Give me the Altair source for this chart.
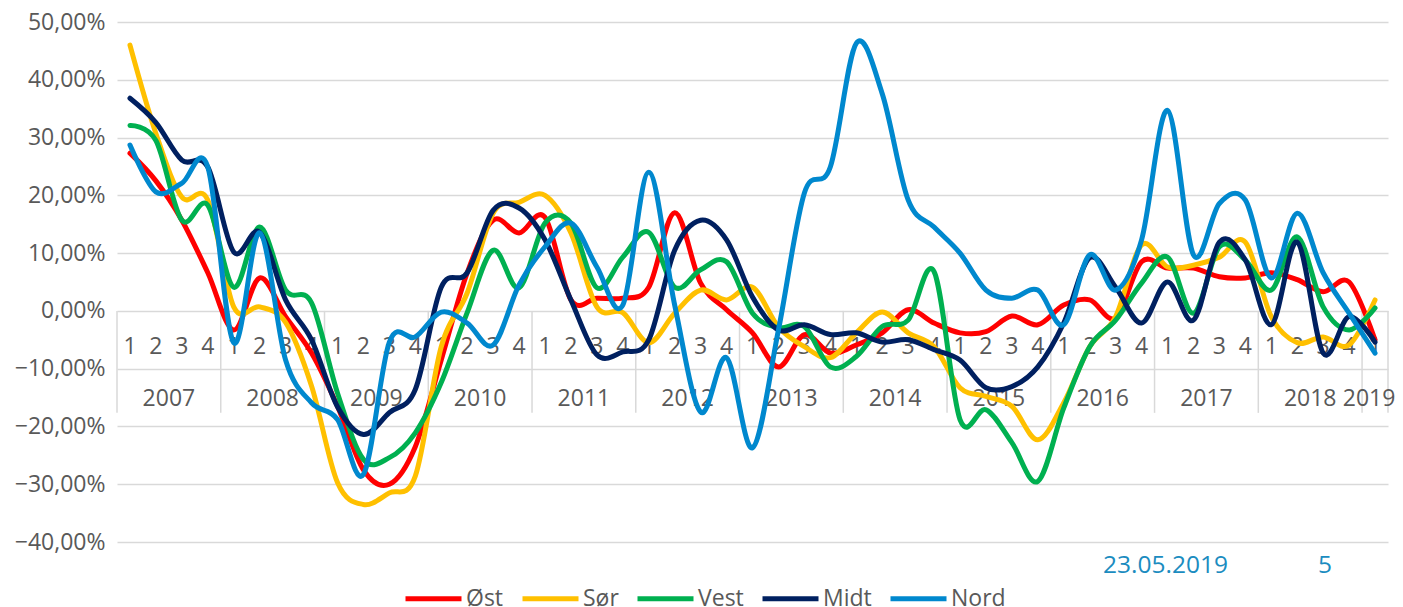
import altair as alt
import pandas as pd

# ---------------- data ----------------
years = ["2007", "2008", "2009", "2010", "2011", "2012", "2013",
         "2014", "2015", "2016", "2017", "2018", "2019"]
quarters_per_year = [4, 4, 4, 4, 4, 4, 4, 4, 4, 4, 4, 4, 1]

series_names = ["Øst", "Sør", "Vest", "Midt", "Nord"]
series_colors = ["#FF0000", "#FFC000", "#00B050", "#002060", "#0088CE"]

ost = [27.3, 22.5, 15.7, 6.6, -3.3, 5.7, -1.0, -7.3, -16.5, -27.5, -30.0, -23.5,
       -8.5, 6.6, 15.7, 13.5, 16.2, 1.9, 2.2, 2.2, 4.1, 17.0, 4.8, 0.2,
       -3.8, -9.7, -4.1, -7.3, -5.9, -3.8, 0.2, -2.1, -3.8, -3.6, -0.9, -2.4,
       1.0, 1.9, -1.2, 8.5, 7.4, 7.4, 5.9, 5.7, 6.6, 5.4, 3.3, 5.0, -5.0]
sor = [46.0, 30.7, 19.7, 19.2, 0.7, 0.7, -2.0, -13.0, -29.7, -33.5, -31.5, -28.6,
       -6.2, 3.1, 16.9, 18.8, 20.0, 13.5, 0.7, -0.3, -5.5, -0.4, 3.6, 1.9,
       4.1, -2.8, -6.2, -8.1, -3.8, -0.2, -3.8, -6.2, -13.3, -14.8, -16.5, -22.3,
       -15.9, -6.2, -1.0, 11.4, 7.6, 7.9, 9.3, 11.9, -1.0, -5.5, -4.5, -5.9, 1.9]
vest = [32.1, 29.5, 15.7, 18.3, 4.1, 14.5, 3.6, 1.4, -14.2, -25.7, -25.4, -21.1,
        -12.4, -0.3, 10.5, 4.0, 15.2, 15.2, 4.0, 9.3, 13.6, 4.1, 7.1, 8.5,
        -0.4, -2.9, -2.7, -9.7, -7.9, -2.7, -1.6, 6.8, -18.8, -17.1, -22.8, -29.5,
        -16.8, -6.2, -1.6, 4.8, 9.3, -0.4, 11.1, 8.8, 3.6, 12.8, 0.7, -3.3, 0.5]
midt = [36.8, 32.6, 26.1, 24.9, 10.2, 13.6, 1.9, -5.0, -16.6, -21.4, -17.6, -13.6,
        4.1, 6.6, 17.4, 17.8, 12.3, 1.9, -7.6, -7.1, -5.0, 10.5, 15.7, 12.3,
        2.4, -3.3, -2.4, -4.1, -3.8, -5.4, -5.0, -6.7, -8.5, -13.3, -13.1, -9.7,
        -2.1, 9.2, 4.1, -2.1, 5.0, -1.6, 11.9, 8.8, -2.4, 11.9, -7.3, -1.0, -5.4]
nord = [28.7, 20.6, 22.1, 24.9, -5.5, 13.5, -8.5, -15.9, -18.8, -28.3, -5.4, -4.5,
        -0.2, -2.1, -5.9, 4.5, 11.1, 15.2, 7.6, 1.0, 24.0, 1.0, -17.5, -8.1,
        -23.7, -3.3, 20.4, 24.9, 46.3, 37.6, 19.2, 14.5, 10.0, 3.6, 2.2, 3.6,
        -2.4, 9.7, 3.6, 12.3, 34.7, 9.7, 18.6, 19.2, 5.7, 16.9, 6.6, -0.4, -7.3]

footer_date = "23.05.2019"
footer_page = "5"

# ---------------- tables ----------------
quarter_rows = []
year_rows = []
boundaries = [-0.5]
i = 0
for y, n in zip(years, quarters_per_year):
    start = i
    for q in range(1, n + 1):
        quarter_rows.append({"idx": i, "label": str(q)})
        i += 1
    year_rows.append({"pos": (start + i - 1) / 2, "label": y})
    boundaries.append(i - 0.5)
n_points = i

all_series = [ost, sor, vest, midt, nord]
long_rows = []
for name, vals in zip(series_names, all_series):
    assert len(vals) == n_points
    for k, v in enumerate(vals):
        long_rows.append({"idx": k, "value": v, "series": name})
df = pd.DataFrame(long_rows)

QROW = -6.2    # quarter-label row (in y-axis units)
YROW = -15.3   # year-label row
TABLE_BOTTOM = -17.65

df_q = pd.DataFrame(quarter_rows).assign(ypos=QROW)
df_y = pd.DataFrame(year_rows).assign(ypos=YROW)
df_y_main = df_y.iloc[:-1]
df_y_last = df_y.iloc[-1:]
df_b = pd.DataFrame({"pos": boundaries, "top": 0.0, "bottom": TABLE_BOTTOM})

FONT = "Open Sans"
GREY = "#595959"
GRID = "#D9D9D9"

xscale = alt.Scale(domain=[-0.5, n_points - 0.5], nice=False, zero=False)
yscale = alt.Scale(domain=[-40, 50], nice=False, zero=False)

grid_axis = alt.Axis(
    values=list(range(-40, 60, 10)), grid=True, gridColor=GRID, gridWidth=1.5,
    domain=False, ticks=False, labelPadding=12, title=None,
    labelFontSize=23, labelColor=GREY, labelFont=FONT,
    labelExpr="replace(format(datum.value, '.2f'), '.', ',') + '%'",
)

color = alt.Color(
    "series:N",
    scale=alt.Scale(domain=series_names, range=series_colors),
    legend=alt.Legend(
        orient="none", legendX=286, legendY=546, direction="horizontal",
        title=None, symbolType="stroke", symbolStrokeWidth=5, symbolSize=3136,
        labelFontSize=23, labelColor=GREY, labelFont=FONT, labelOffset=2,
        columnPadding=8, padding=0,
    ),
)

layers = []
for name in series_names:
    layers.append(
        alt.Chart(df)
        .transform_filter(alt.datum.series == name)
        .mark_line(interpolate="cardinal", tension=0, strokeWidth=5, strokeCap="round")
        .encode(
            x=alt.X("idx:Q", scale=xscale, axis=None),
            y=alt.Y("value:Q", scale=yscale, axis=grid_axis),
            color=color,
        )
    )

sep = alt.Chart(df_b).mark_rule(color=GRID, strokeWidth=1.5).encode(
    x=alt.X("pos:Q", scale=xscale, axis=None),
    y=alt.Y("top:Q", scale=yscale, axis=grid_axis),
    y2="bottom:Q",
)

qtext = alt.Chart(df_q).mark_text(
    font=FONT, fontSize=23, color=GREY, baseline="middle", align="center"
).encode(
    x=alt.X("idx:Q", scale=xscale, axis=None),
    y=alt.Y("ypos:Q", scale=yscale, axis=grid_axis),
    text="label:N",
)

ytext = alt.Chart(df_y_main).mark_text(
    font=FONT, fontSize=23, color=GREY, baseline="middle", align="center"
).encode(
    x=alt.X("pos:Q", scale=xscale, axis=None),
    y=alt.Y("ypos:Q", scale=yscale, axis=grid_axis),
    text="label:N",
)

ytext_last = alt.Chart(df_y_last).mark_text(
    font=FONT, fontSize=23, color=GREY, baseline="middle", align="center", dx=-6
).encode(
    x=alt.X("pos:Q", scale=xscale, axis=None),
    y=alt.Y("ypos:Q", scale=yscale, axis=grid_axis),
    text="label:N",
)

footer = alt.Chart(pd.DataFrame({"t": [footer_date, footer_page], "px": [986, 1201]})).mark_text(
    font=FONT, fontSize=24.5, color="#1B8CC0", align="left", baseline="middle"
).encode(
    x=alt.X("px:Q", scale=None),
    y=alt.value(544),
    text="t:N",
)

chart = (
    alt.layer(sep, qtext, ytext, ytext_last, *layers, footer)
    .properties(
        width=1271, height=520,
        autosize=alt.AutoSizeParams(type="none"),
        padding={"left": 109, "top": 14, "right": 7, "bottom": 65},
    )
    .configure_view(stroke=None)
)

chart.save("out.html", embed_options={"renderer": "svg", "actions": False})
